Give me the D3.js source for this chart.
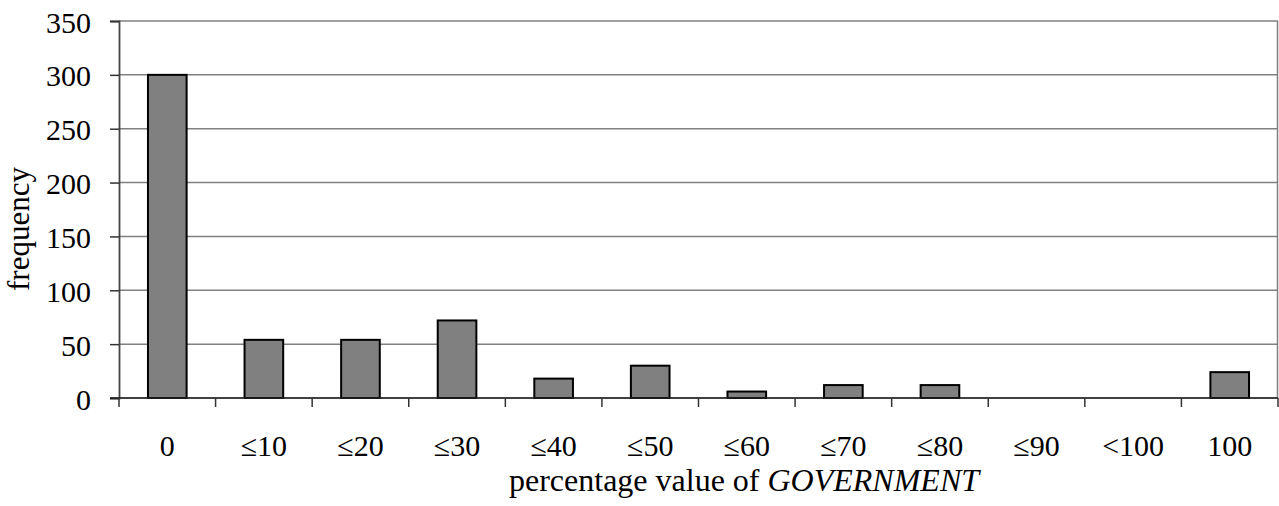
<!DOCTYPE html>
<html>
<head>
<meta charset="utf-8">
<script src="https://cdn.jsdelivr.net/npm/d3@7"></script>
<style>
  body { margin: 0; background: #fff; }
  text { font-family: "Liberation Serif", "Times New Roman", serif; fill: #000; }
</style>
</head>
<body>
<div id="chart"></div>
<script>
// data
var categories = ['0', '\u226410', '\u226420', '\u226430', '\u226440', '\u226450', '\u226460', '\u226470', '\u226480', '\u226490', '<100', '100'];
var frequency = [300, 54, 54, 72, 18, 30, 6, 12, 12, 0, 0, 24];
var yTicks = [0, 50, 100, 150, 200, 250, 300, 350];

var width = 1279, height = 506;
var margin = {top: 21, right: 1, bottom: 108, left: 119};
var fontSize = '30px';

var svg = d3.select('#chart')
    .append('svg')
    .attr('width', width)
    .attr('height', height);

var x = d3.scaleBand()
    .domain(categories)
    .range([margin.left, width - margin.right])
    .paddingInner(0.6)
    .paddingOuter(0.3);

// tick marks sit on category boundaries
var step = (width - margin.right - margin.left) / categories.length;

var y = d3.scaleLinear()
    .domain([0, 350])
    .range([height - margin.bottom, margin.top]);

// grid lines
svg.append('g')
    .selectAll('line')
    .data(yTicks)
    .enter()
    .append('line')
    .attr('x1', margin.left)
    .attr('x2', width - margin.right)
    .attr('y1', function(d) { return y(d); })
    .attr('y2', function(d) { return y(d); })
    .attr('stroke', '#808080')
    .attr('stroke-width', 1.5);

// right border of plot area
svg.append('line')
    .attr('x1', width - margin.right - 0.5)
    .attr('x2', width - margin.right - 0.5)
    .attr('y1', y(350))
    .attr('y2', y(0))
    .attr('stroke', '#808080')
    .attr('stroke-width', 1.5);

// bars
svg.append('g')
    .selectAll('rect')
    .data(categories.map(function(c, i) { return {cat: c, value: frequency[i]}; }))
    .enter()
    .filter(function(d) { return d.value > 0; })
    .append('rect')
    .attr('x', function(d) { return x(d.cat); })
    .attr('y', function(d) { return y(d.value); })
    .attr('width', x.bandwidth())
    .attr('height', function(d) { return y(0) - y(d.value); })
    .attr('fill', '#808080')
    .attr('stroke', '#000')
    .attr('stroke-width', 2);

// y axis
var yAxis = d3.axisLeft(y)
    .tickValues(yTicks)
    .tickSize(9)
    .tickPadding(19)
    .tickFormat(d3.format('d'));

var gy = svg.append('g')
    .attr('transform', 'translate(' + margin.left + ',0)')
    .call(yAxis);
gy.select('.domain').attr('stroke', '#444').attr('stroke-width', 1.8);
gy.selectAll('.tick line').attr('stroke', '#333').attr('stroke-width', 1.5);
gy.selectAll('.tick text')
    .attr('dy', '0.37em')
    .style('font-size', fontSize)
    .style('font-family', '"Liberation Serif", serif');

// x axis line and ticks
var xAxisY = y(0);
svg.append('line')
    .attr('x1', margin.left - 9)
    .attr('x2', width - margin.right)
    .attr('y1', xAxisY)
    .attr('y2', xAxisY)
    .attr('stroke', '#222')
    .attr('stroke-width', 1.6);

svg.append('g')
    .selectAll('line')
    .data(d3.range(categories.length + 1))
    .enter()
    .append('line')
    .attr('x1', function(d) { return margin.left + d * step; })
    .attr('x2', function(d) { return margin.left + d * step; })
    .attr('y1', xAxisY)
    .attr('y2', xAxisY + 9)
    .attr('stroke', '#333')
    .attr('stroke-width', 1.5);

svg.append('g')
    .selectAll('text')
    .data(categories)
    .enter()
    .append('text')
    .attr('x', function(d) { return x(d) + x.bandwidth() / 2; })
    .attr('y', 455.5)
    .attr('text-anchor', 'middle')
    .style('font-size', fontSize)
    .text(function(d) { return d; });

// axis titles
svg.append('text')
    .attr('transform', 'translate(29,229) rotate(-90)')
    .attr('text-anchor', 'middle')
    .style('font-size', '31px')
    .text('frequency');

var xt = svg.append('text')
    .attr('x', 744)
    .attr('y', 491)
    .attr('text-anchor', 'middle')
    .style('font-size', '32px');
xt.append('tspan').text('percentage value of ');
xt.append('tspan').style('font-style', 'italic').text('GOVERNMENT');
</script>
</body>
</html>
